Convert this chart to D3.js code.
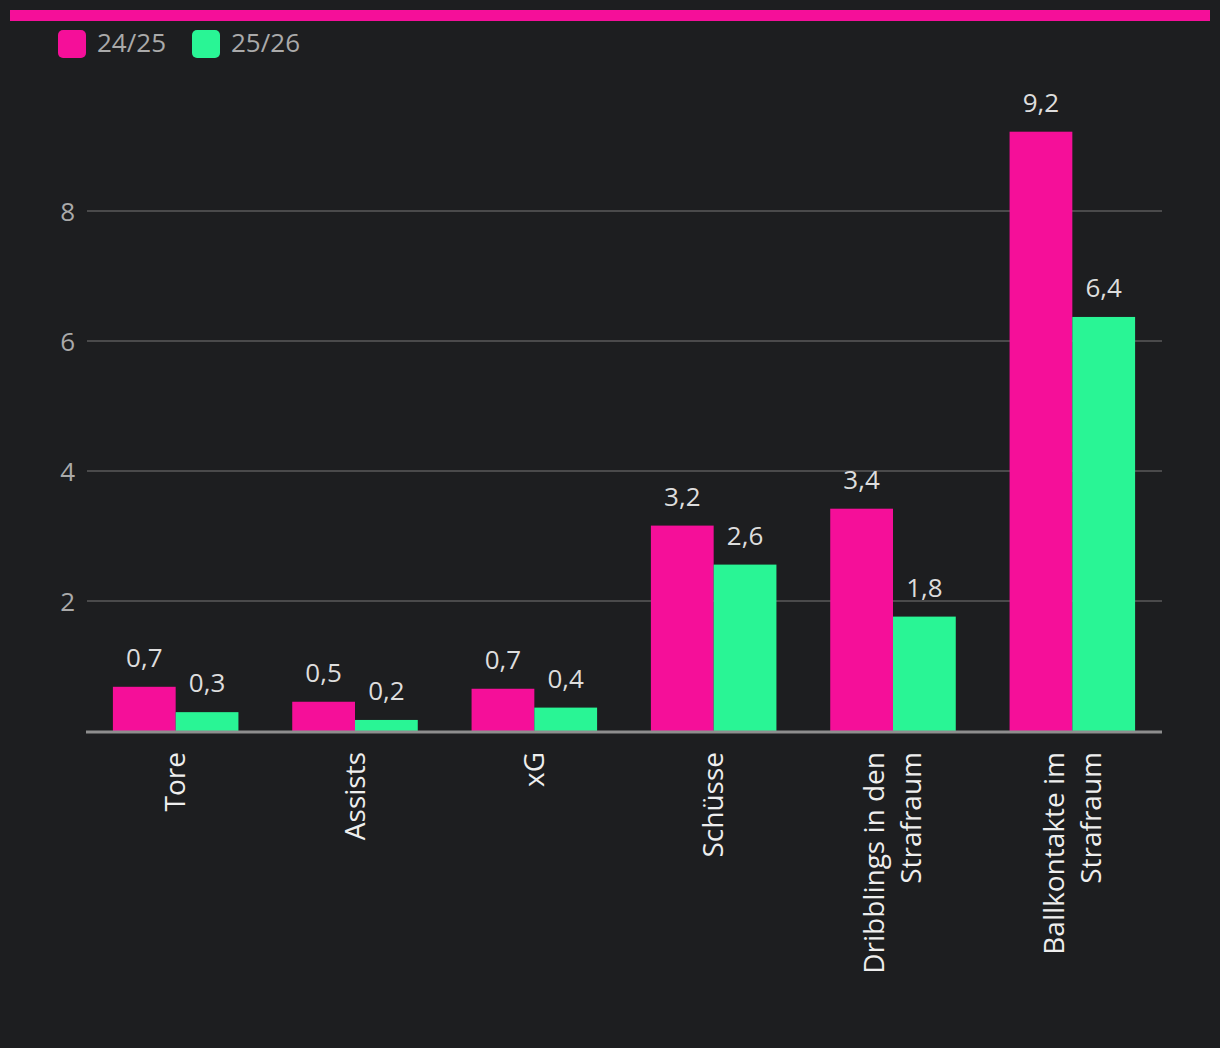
<!DOCTYPE html>
<html>
<head>
<meta charset="utf-8">
<script src="https://cdn.jsdelivr.net/npm/d3@7"></script>
<style>
  html, body { margin: 0; padding: 0; background: #1d1e20; }
  svg { display: block; }
</style>
</head>
<body>
<svg id="chart" width="1220" height="1048"></svg>
<script>
const categories = ["Tore", "Assists", "xG", "Schüsse", "Dribblings in den|Strafraum", "Ballkontakte im|Strafraum"];
const seriesNames = ["24/25", "25/26"];
const values2425 = [0.68, 0.45, 0.65, 3.16, 3.42, 9.22];
const values2526 = [0.29, 0.17, 0.36, 2.56, 1.76, 6.37];
const yTicks = [2, 4, 6, 8];
const colors = ["#f50f99", "#29f595"];

const svg = d3.select("#chart");
const W = 1220, H = 1048;
svg.append("rect").attr("width", W).attr("height", H).attr("fill", "#1d1e20");

const font = "'Open Sans', 'Noto Sans', sans-serif";

// top accent bar
svg.append("rect").attr("x", 10).attr("y", 10).attr("width", 1200).attr("height", 11).attr("fill", colors[0]);

const x0 = d3.scaleBand().domain(categories).range([86, 1162]).paddingInner(0.3).paddingOuter(0.15);
const x1 = d3.scaleBand().domain(seriesNames).range([0, x0.bandwidth()]);
const y = d3.scaleLinear().domain([0, 10]).range([731, 81]);

// grid
const grid = svg.append("g");
grid.selectAll("line").data(yTicks).join("line")
  .attr("x1", 87).attr("x2", 1162)
  .attr("y1", d => y(d)).attr("y2", d => y(d))
  .attr("stroke", "#5a5a5a").attr("stroke-width", 1.5);

// y axis labels
const yAxis = d3.axisLeft(y).tickValues(yTicks).tickSize(0).tickPadding(0).tickFormat(d3.format("d"));
const ya = svg.append("g").attr("transform", "translate(75,0)").call(yAxis);
ya.select(".domain").remove();
ya.selectAll("text").attr("fill", "#aaaaaa").attr("font-size", 26).attr("font-family", font).attr("dy", "0.35em");

const data = categories.map((c, i) => ({cat: c, vals: [values2425[i], values2526[i]]}));
const fmt = v => d3.format(".1f")(v).replace(".", ",");

const groups = svg.append("g").selectAll("g").data(data).join("g")
  .attr("transform", d => `translate(${x0(d.cat)},0)`);

groups.selectAll("rect").data(d => d.vals.map((v, k) => ({v, k}))).join("rect")
  .attr("x", d => x1(seriesNames[d.k]))
  .attr("width", x1.bandwidth())
  .attr("y", d => y(d.v))
  .attr("height", d => y(0) - y(d.v))
  .attr("fill", d => colors[d.k]);

groups.selectAll("text.val").data(d => d.vals.map((v, k) => ({v, k}))).join("text")
  .attr("class", "val")
  .attr("x", d => x1(seriesNames[d.k]) + x1.bandwidth() / 2)
  .attr("y", d => y(d.v) - 20)
  .attr("text-anchor", "middle")
  .attr("fill", "#dddddd").attr("font-size", 26).attr("font-family", font)
  .text(d => fmt(d.v));

// baseline axis
svg.append("line").attr("x1", 86).attr("x2", 1162).attr("y1", y(0) + 1).attr("y2", y(0) + 1)
  .attr("stroke", "#8e8e8e").attr("stroke-width", 3);

// category labels
const xAxis = d3.axisBottom(x0).tickSize(0).tickFormat("");
const xa = svg.append("g").attr("transform", `translate(0,${y(0)})`).call(xAxis);
xa.select(".domain").remove();
xa.selectAll(".tick").each(function(d) {
  const lines = d.split("|");
  const g = d3.select(this);
  const t = g.append("text")
    .attr("transform", "translate(0,21) rotate(-90)")
    .attr("text-anchor", "end")
    .attr("fill", "#eeeeee").attr("font-size", 28).attr("font-family", font);
  const spacing = 37;
  lines.forEach((ln, i) => {
    const off = (i - (lines.length - 1) / 2) * spacing;
    t.append("tspan").attr("x", 0).attr("y", off).attr("dy", "0.35em").text(ln);
  });
});

// legend
const legend = svg.append("g");
const legendX = [58, 192];
seriesNames.forEach((s, i) => {
  legend.append("rect").attr("x", legendX[i]).attr("y", 30).attr("width", 28).attr("height", 28)
    .attr("rx", 5).attr("fill", colors[i]);
  legend.append("text").attr("x", legendX[i] + 39).attr("y", 43).attr("dy", "0.35em")
    .attr("fill", "#aaaaaa").attr("font-size", 26).attr("font-family", font).text(s);
});
</script>
</body>
</html>
